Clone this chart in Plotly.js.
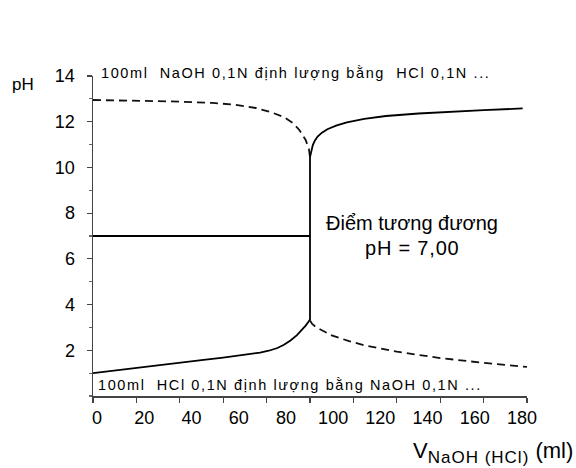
<!DOCTYPE html>
<html><head><meta charset="utf-8">
<script src="https://cdn.plot.ly/plotly-3.0.1.min.js"></script>
<style>html,body{margin:0;padding:0;background:#fff;}</style>
</head><body>
<div id="chart" style="width:576px;height:468px;"></div>
<script>
// HCl 100 ml titrated with NaOH (solid)
const solidX = [0, 10, 20, 30, 40, 50, 60, 66, 72, 77, 81, 85, 88, 91, 94, 96, 98, 99.3, 100, 100, 100.6, 101.3, 102.2, 103.5, 105.5, 108, 112, 117, 125, 135, 150, 165, 180, 198];
const solidY = [1.0, 1.12, 1.24, 1.35, 1.46, 1.57, 1.68, 1.75, 1.83, 1.9, 1.98, 2.1, 2.24, 2.43, 2.66, 2.85, 3.08, 3.25, 3.35, 10.45, 10.75, 10.98, 11.17, 11.35, 11.52, 11.67, 11.83, 11.97, 12.12, 12.25, 12.36, 12.44, 12.51, 12.58];
// NaOH 100 ml titrated with HCl (dashed), before and after equivalence
const dashUpX = [0, 20, 40, 55, 65, 75, 82, 88, 92, 95, 98, 99.5, 100];
const dashUpY = [12.95, 12.93, 12.88, 12.82, 12.75, 12.6, 12.42, 12.2, 11.95, 11.65, 11.2, 10.8, 10.45];
const dashLowX = [100, 101, 103, 106, 110, 118, 125, 140, 160, 180, 200];
const dashLowY = [3.3, 3.15, 3.0, 2.85, 2.65, 2.4, 2.22, 1.94, 1.66, 1.45, 1.27];
// equivalence line
const eqX = [0, 100];
const eqY = [7, 7];
// printed x labels
const xLabelVals = [0, 20, 40, 60, 80, 100, 120, 140, 160, 180];
const yTickVals = [2, 4, 6, 8, 10, 12, 14];

const L = 93, R = 527, T = 76, B = 396;
const px = v => (v - L) / (R - L);
const py = v => (B - v) / (B - T);

const FONT = 'Liberation Sans, Arial, sans-serif';
const sp = (t, ls) => '<span style="letter-spacing:' + ls + 'px">' + t + '</span>';
const traces = [
  {x: dashUpX, y: dashUpY, mode: 'lines', line: {color: '#111', width: 1.8, dash: '8px,5px'}, hoverinfo: 'skip'},
  {x: dashLowX, y: dashLowY, mode: 'lines', line: {color: '#111', width: 1.8, dash: '8px,5px'}, hoverinfo: 'skip'},
  {x: eqX, y: eqY, mode: 'lines', line: {color: '#000', width: 2}, hoverinfo: 'skip'},
  {x: solidX, y: solidY, mode: 'lines', line: {color: '#000', width: 1.8}, hoverinfo: 'skip'},
  {x: [xLabelVals[0], xLabelVals[xLabelVals.length - 1]], y: [7, 7], xaxis: 'x2', mode: 'markers', marker: {opacity: 0}, hoverinfo: 'skip'}
];

const layout = {
  width: 576, height: 468,
  margin: {l: L, r: 576 - R, t: T, b: 468 - B},
  showlegend: false,
  paper_bgcolor: '#fff', plot_bgcolor: '#fff',
  font: {family: FONT, color: '#000'},
  xaxis: {range: [0, 200], tick0: 0, dtick: 20, ticks: 'outside', ticklen: 5, tickwidth: 1.2, tickcolor: '#444',
          showticklabels: false, showline: true, linecolor: '#444', linewidth: 1.5, showgrid: false, zeroline: false},
  xaxis2: {overlaying: 'x', anchor: 'y', side: 'bottom', range: [-1.69, 182.1], tickvals: xLabelVals,
           ticks: '', showline: false, showgrid: false, zeroline: false, ticklabelstandoff: 9,
           tickfont: {size: 18, family: FONT, color: '#000'}},
  yaxis: {range: [0, 14], tickvals: yTickVals, ticks: 'outside', ticklen: 5, tickwidth: 1.2, tickcolor: '#444',
          minor: {dtick: 1, tick0: 0, ticks: 'outside', ticklen: 3, tickcolor: '#666'},
          showline: true, linecolor: '#444', linewidth: 1.5, showgrid: false, zeroline: false,
          ticklabelstandoff: 8, tickfont: {size: 18, family: FONT, color: '#000'}},
  annotations: [
    {xref: 'paper', yref: 'paper', x: px(23), y: py(85), text: 'pH', showarrow: false, xanchor: 'center', yanchor: 'middle', font: {size: 17}},
    {xref: 'paper', yref: 'paper', x: px(99), y: py(73), text: sp('100ml  NaOH 0,1N định lượng bằng  HCl 0,1N ...', 1.6), showarrow: false, xanchor: 'left', yanchor: 'middle', font: {size: 14.5}},
    {xref: 'paper', yref: 'paper', x: px(96), y: py(385), text: sp('100ml  HCl 0,1N định lượng bằng NaOH 0,1N ...', 1.6), showarrow: false, xanchor: 'left', yanchor: 'middle', font: {size: 14.5}},
    {xref: 'paper', yref: 'paper', x: px(412), y: py(223), text: 'Điểm tương đương', showarrow: false, xanchor: 'center', yanchor: 'middle', font: {size: 20}},
    {xref: 'paper', yref: 'paper', x: px(412), y: py(248), text: sp('pH = 7,00', 0.8), showarrow: false, xanchor: 'center', yanchor: 'middle', font: {size: 20}},
    {xref: 'paper', yref: 'paper', x: px(575), y: py(452), text: 'V<sub><span style="font-size:17px;letter-spacing:1px">NaOH (HCl)</span></sub> (ml)', showarrow: false, xanchor: 'right', yanchor: 'middle', font: {size: 22}}
  ]
};

Plotly.newPlot('chart', traces, layout, {staticPlot: true, displayModeBar: false});
</script>
</body></html>
